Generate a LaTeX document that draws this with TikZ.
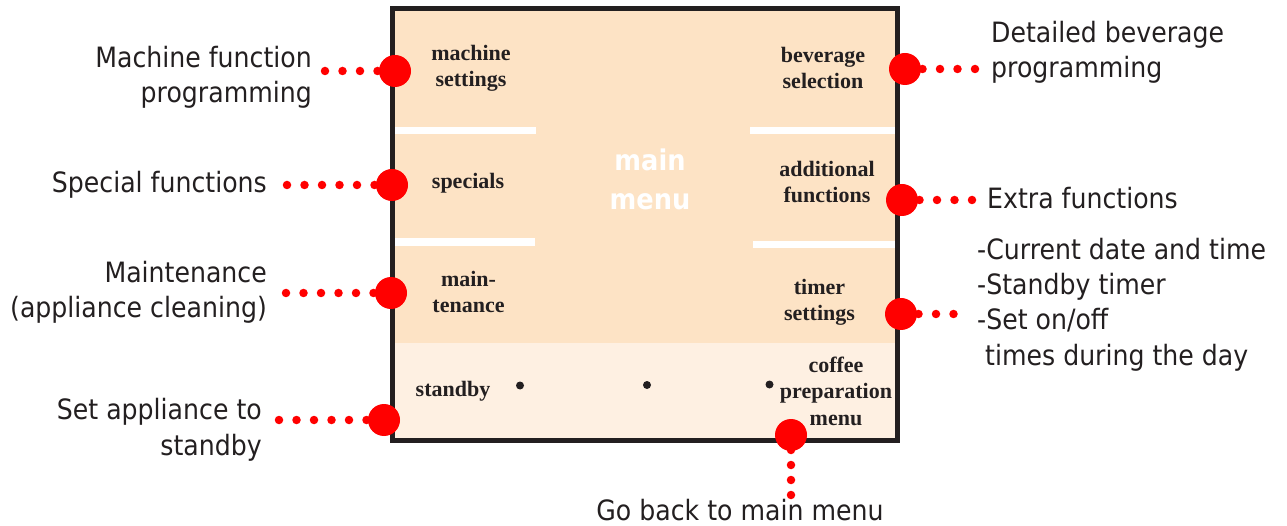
\documentclass[tikz,border=0pt]{standalone}
\usepackage{fontspec}
\setmainfont{Liberation Serif}
\newfontfamily\labelfont[FakeStretch=0.9]{DejaVu Sans}
\definecolor{peach}{RGB}{253,227,197}
\definecolor{cream}{RGB}{254,240,226}
\definecolor{ink}{RGB}{35,31,32}
\definecolor{dotred}{RGB}{255,0,0}
\tikzset{
  note/.style={font=\labelfont\fontsize{28}{35.3}\selectfont, text=ink, inner sep=0pt},
  key/.style={font=\bfseries\fontsize{22}{26.5}\selectfont, text=ink, inner sep=0pt, align=center},
  bigdot/.style={circle, fill=dotred, minimum size=32pt, inner sep=0pt},
  dotline/.style={draw=dotred, line width=8.5pt, line cap=round, dash pattern=on 0pt off 17.5pt},
  smalldot/.style={circle, fill=ink, minimum size=8pt, inner sep=0pt},
}
\begin{document}
\begin{tikzpicture}[x=1pt,y=-1pt]
\useasboundingbox (0,0) rectangle (1287,526);
% panel
\fill[peach] (392.5,8.5) rectangle (897.5,440);
\fill[cream] (395,343) rectangle (895,437.5);
\fill[white] (395,127) rectangle (536,134);
\fill[white] (395,238) rectangle (535,246);
\fill[white] (750,127) rectangle (895,134);
\fill[white] (753,241) rectangle (895,248);
\draw[ink, line width=5pt] (392.5,8.5) rectangle (897.5,440);
% key labels (anchor = baseline of last line)
\node[key, anchor=base] (k1) at (471,87) {machine\\settings};
\node[key, anchor=base] (k2) at (823,89) {beverage\\selection};
\node[key, anchor=base] (k3) at (468,189) {specials};
\node[key, anchor=base] (k4) at (827,203) {additional\\functions};
\node[key, anchor=base] (k5) at (468.5,313) {main-\\tenance};
\node[key, anchor=base] (k6) at (819.5,321) {timer\\settings};
\node[key, anchor=base] (k7) at (453,396) {standby};
\node[key, anchor=base] (k8) at (836,425) {coffee\\preparation\\menu};
\node[font=\labelfont\bfseries\fontsize{28.5}{38.5}\selectfont, text=white, inner sep=0pt, align=center, anchor=base] (mm) at (650,209.5) {main\\menu};
\node[smalldot] (s1) at (520,385.5) {};
\node[smalldot] (s2) at (647,385) {};
\node[smalldot] (s3) at (769.5,384.5) {};
% big dots
\node[bigdot] (d1) at (395,71) {};
\node[bigdot] (d2) at (392,185) {};
\node[bigdot] (d3) at (391,293) {};
\node[bigdot] (d4) at (384,420) {};
\node[bigdot] (d5) at (905,69) {};
\node[bigdot] (d6) at (902,200) {};
\node[bigdot] (d7) at (901,314) {};
\node[bigdot] (d8) at (791,435) {};
% ends
\coordinate (e1) at (325,71);
\coordinate (e2) at (287,185);
\coordinate (e3) at (286,293);
\coordinate (e4) at (279,420);
\coordinate (e5) at (975,69);
\coordinate (e6) at (972,200);
\coordinate (e7) at (953.5,314);
\coordinate (e8) at (791,495);
\draw[dotline] (d1.center) -- (e1);
\draw[dotline] (d2.center) -- (e2);
\draw[dotline] (d3.center) -- (e3);
\draw[dotline] (d4.center) -- (e4);
\draw[dotline] (d5.center) -- (e5);
\draw[dotline] (d6.center) -- (e6);
\draw[dotline] (d7.center) -- (e7);
\draw[dotline, dash pattern=on 0pt off 15pt] (d8.center) -- (e8);
% notes (anchor = baseline of last line)
\node[note, align=right, anchor=base east] (n1) at (312,103) {Machine function\\programming};
\node[note, align=right, anchor=base east] (n2) at (267,193) {Special functions};
\node[note, align=right, anchor=base east] (n3) at (267,318) {Maintenance\\(appliance cleaning)};
\node[note, align=right, anchor=base east] (n4) at (262,455) {Set appliance to\\standby};
\node[note, align=left, anchor=base west] (n5) at (991,78) {Detailed beverage\\programming};
\node[note, align=left, anchor=base west] (n6) at (987,209) {Extra functions};
\node[note, align=left, anchor=base west] (n7) at (977,365) {-Current date and time\\-Standby timer\\-Set on/off\\\hspace*{8pt}times during the day};
\node[note, anchor=base] (n8) at (740,520) {Go back to main menu};
\end{tikzpicture}
\end{document}
